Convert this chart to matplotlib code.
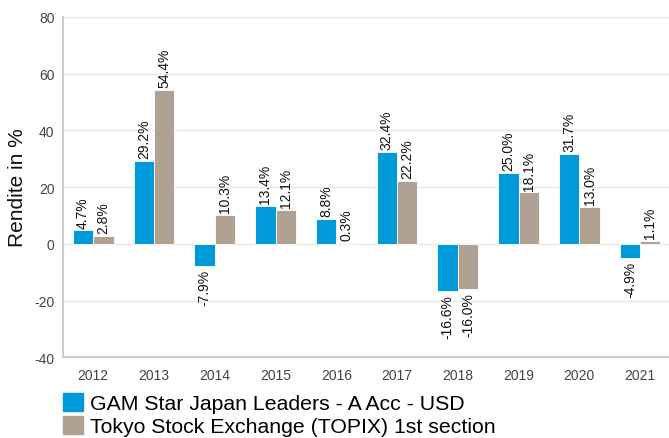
import numpy as np
import matplotlib
matplotlib.use("Agg")
from matplotlib import pyplot as plt
from matplotlib.patches import Patch

plt.rcParams['font.family'] = ['Liberation Sans', 'DejaVu Sans']

years = ['2012', '2013', '2014', '2015', '2016', '2017', '2018', '2019', '2020', '2021']
fund = [4.7, 29.2, -7.9, 13.4, 8.8, 32.4, -16.6, 25.0, 31.7, -4.9]
index = [2.8, 54.4, 10.3, 12.1, 0.3, 22.2, -16.0, 18.1, 13.0, 1.1]
names = ['GAM Star Japan Leaders - A Acc - USD', 'Tokyo Stock Exchange (TOPIX) 1st section']
colors = ['#009ad8', '#b1a193']
yticks = [-40, -20, 0, 20, 40, 60, 80]

fig = plt.figure(figsize=(6.69, 4.39), dpi=100)
ax = fig.add_axes([0.094, 0.184, 0.91, 0.775])

x = np.arange(len(years))
w = 0.335
for vals, off, c in [(fund, -w / 2, colors[0]), (index, w / 2, colors[1])]:
    bars = ax.bar(x + off, vals, w, color=c, edgecolor='white', linewidth=0.6, zorder=3)
    for b, v in zip(bars, vals):
        lab = '%.1f%%' % v
        if v >= 0:
            ax.annotate(lab, (b.get_x() + b.get_width() / 2, v), xytext=(0, 2),
                        textcoords='offset points', rotation=90, ha='center', va='bottom',
                        fontsize=10, color='#111111')
        else:
            ax.annotate(lab, (b.get_x() + b.get_width() / 2, v), xytext=(0, -2),
                        textcoords='offset points', rotation=90, ha='center', va='top',
                        fontsize=10, color='#111111')

ax.set_ylim(-40, 80)
ax.set_xlim(-0.5, 9.52)
ax.set_yticks(yticks)
ax.set_yticklabels([str(t) for t in yticks])
ax.set_xticks(x)
ax.set_xticklabels(years)
ax.grid(axis='y', color='#e6e6e6', linewidth=1, zorder=0)
ax.tick_params(length=0, labelsize=10, colors='#444444', pad=8)
ax.tick_params(axis='y', pad=6)
for s in ['top', 'right']:
    ax.spines[s].set_visible(False)
for s in ['left', 'bottom']:
    ax.spines[s].set_color('#cccccc')
    ax.spines[s].set_linewidth(1.5)
fig.text(0.026, 0.572, 'Rendite in %', rotation=90, ha='center', va='center',
         fontsize=15, color='#111111')

handles = [Patch(color=c) for c in colors]
fig.legend(handles, names, loc='lower left', bbox_to_anchor=(0.072, -0.03), frameon=False,
           fontsize=15.3, handlelength=0.93, handleheight=0.93, handletextpad=0.35,
           labelspacing=0.12, borderaxespad=0.3)

fig.savefig('out.png', dpi=100)
